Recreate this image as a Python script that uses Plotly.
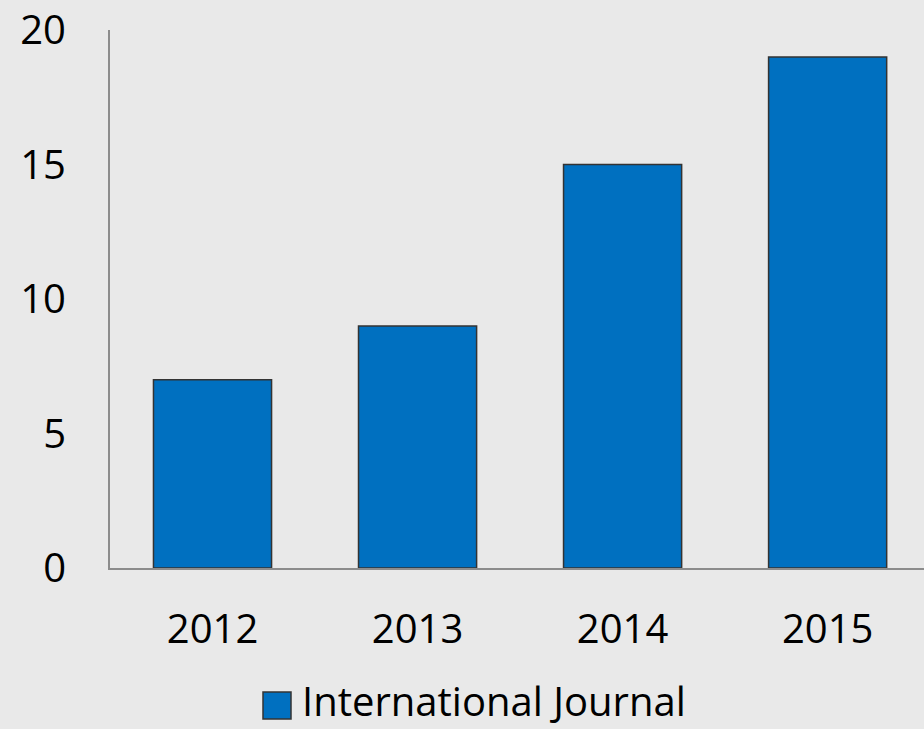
import plotly.graph_objects as go

years = ["2012", "2013", "2014", "2015"]
values = [7, 9, 15, 19]
series_name = "International Journal"
y_ticks = [0, 5, 10, 15, 20]

BAR = "#0070C0"
BG = "#e9e9e9"
FONT = "Open Sans"

fig = go.Figure()
fig.add_trace(go.Bar(
    x=years, y=values, name=series_name,
    marker=dict(color=BAR, line=dict(color="#333333", width=1.5)),
    showlegend=False,
))

fig.update_layout(
    width=924, height=729,
    margin=dict(l=110, r=0, t=30, b=161),
    paper_bgcolor=BG, plot_bgcolor=BG,
    font=dict(family=FONT, size=40, color="#000000"),
    bargap=0.424,
    xaxis=dict(
        type="category", range=[-0.5, 3.47],
        showline=True, linecolor="#8c8c8c", linewidth=2,
        showgrid=False, zeroline=False, ticks="", ticklabelstandoff=25,
        tickfont=dict(family=FONT, size=40),
    ),
    yaxis=dict(
        range=[0, 20], tickvals=y_ticks,
        showline=True, linecolor="#8c8c8c", linewidth=2,
        showgrid=False, zeroline=False, ticks="", ticklabelstandoff=34,
        tickfont=dict(family=FONT, size=40),
    ),
)

# legend swatch + label
fig.add_shape(type="rect", xref="paper", yref="paper",
              x0=(263 - 110) / 814, x1=(291 - 110) / 814,
              y0=-(719 - 568) / 538, y1=-(692 - 568) / 538,
              fillcolor=BAR, line=dict(color="#333333", width=1.5))
fig.add_annotation(text=series_name, xref="paper", yref="paper",
                   x=(300 - 110) / 814, y=-(700 - 568) / 538,
                   xanchor="left", yanchor="middle", showarrow=False,
                   font=dict(family=FONT, size=40, color="#000000"))

fig.write_html(
    "out.html",
    config={"displayModeBar": False},
    post_script="document.body.style.margin='0';document.body.style.padding='0';"
                "document.body.style.background='#e9e9e9';"
                "document.body.style.overflow='hidden';",
)
